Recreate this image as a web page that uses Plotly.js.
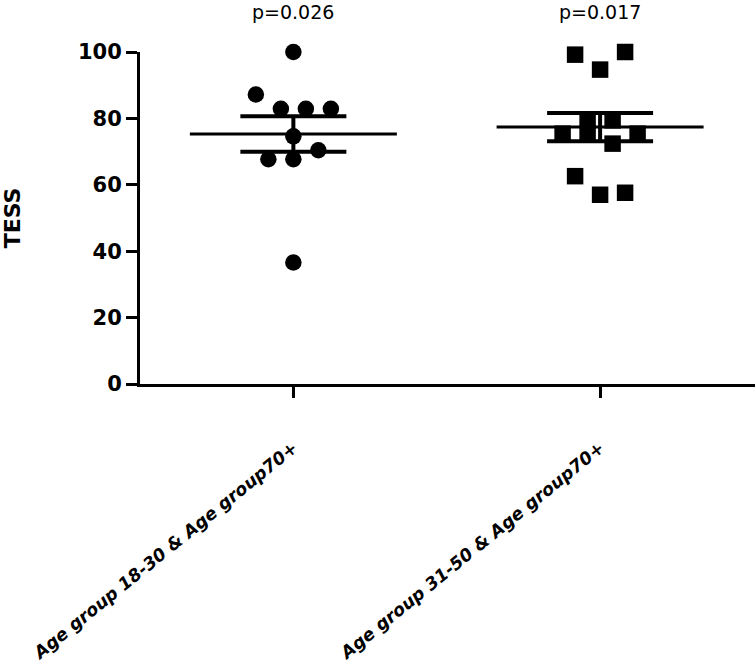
<!DOCTYPE html>
<html>
<head>
<meta charset="utf-8">
<script src="https://cdn.plot.ly/plotly-3.0.1.min.js"></script>
<style>html,body{margin:0;padding:0;background:#fff;}#chart{width:755px;height:672px;}</style>
</head>
<body>
<div id="chart"></div>
<script>
// ---- data ----
const categories = ["Age group 18-30 & Age group70+", "Age group 31-50 & Age group70+"];
const pValues = ["p=0.026", "p=0.017"];
const group1 = [100, 87.2, 82.9, 82.9, 82.9, 74.6, 67.7, 67.7, 70.4, 36.6];
const group2 = [99.2, 94.7, 100, 79.4, 79.4, 75.4, 75.4, 72.4, 75.4, 62.6, 57.0, 57.6];
const yTicks = [0, 20, 40, 60, 80, 100];
const yTitle = "TESS";

// ---- layout constants ----
const W = 755, H = 672;
const M = {l: 140, r: 0, t: 51.5, b: 288};
const xRange = [-0.5, 1.505];
const unitPx = (W - M.l - M.r) / (xRange[1] - xRange[0]);
const spacing = 25 / unitPx;      // horizontal spacing of points in a row
const rowThresh = 6;              // values closer than this share a row
const meanHalf = 103.5 / unitPx;  // half-length of the mean line

function mean(a){ return a.reduce((s,v)=>s+v,0)/a.length; }
function sem(a){ const m = mean(a); const v = a.reduce((s,x)=>s+(x-m)*(x-m),0)/(a.length-1); return Math.sqrt(v/a.length); }

function swarm(values, center){
  const idx = values.map((v,i)=>i).sort((a,b)=>values[a]-values[b]);
  const clusters = []; let cur = null;
  for (const i of idx){
    if (!cur || values[i]-cur.start > rowThresh){ cur = {start: values[i], members: []}; clusters.push(cur); }
    cur.members.push(i);
  }
  const xs = new Array(values.length);
  for (const c of clusters){
    const m = c.members.slice().sort((a,b)=>a-b); const n = m.length;
    m.forEach((i,k)=>{ xs[i] = center + (k-(n-1)/2)*spacing; });
  }
  return xs;
}

const groups = [group1, group2];
const symbols = ["circle", "square"];
const traces = [];
groups.forEach((g, gi) => {
  traces.push({
    type: "scatter", mode: "markers", x: swarm(g, gi), y: g,
    marker: {symbol: symbols[gi], size: 16.5, color: "#000", line: {width: 0}},
    cliponaxis: false, showlegend: false, hoverinfo: "y"
  });
  const m = mean(g), s = sem(g);
  traces.push({
    type: "scatter", mode: "lines", x: [gi - meanHalf, gi + meanHalf], y: [m, m],
    line: {color: "#000", width: 3}, showlegend: false, cliponaxis: false, hoverinfo: "skip"
  });
  traces.push({
    type: "scatter", mode: "markers", x: [gi], y: [m],
    marker: {size: 1, color: "rgba(0,0,0,0)"},
    error_y: {type: "data", array: [s], visible: true, color: "#000", thickness: 4, width: 53},
    showlegend: false, cliponaxis: false, hoverinfo: "skip"
  });
});

const annotations = pValues.map((p, i) => ({
  x: i, xref: "x", y: 1 + (M.t - 11) / (H - M.t - M.b), yref: "paper",
  text: p, showarrow: false, xanchor: "center", yanchor: "middle",
  font: {family: "DejaVu Sans", size: 19, color: "#000"}
}));

const layout = {
  width: W, height: H, margin: M,
  paper_bgcolor: "#fff", plot_bgcolor: "#fff",
  showlegend: false,
  xaxis: {
    range: xRange, tickvals: [0, 1], ticktext: categories,
    showgrid: false, zeroline: false, showline: true, linecolor: "#000", linewidth: 3,
    ticks: "outside", ticklen: 11, tickwidth: 3, tickcolor: "#000",
    tickangle: -39, ticklabelstandoff: 33,
    tickfont: {family: "DejaVu Sans", size: 17.5, weight: "bold", style: "italic", color: "#000"}
  },
  yaxis: {
    range: [0, 100], tickvals: yTicks,
    showgrid: false, zeroline: false, showline: true, linecolor: "#000", linewidth: 3,
    ticks: "outside", ticklen: 11, tickwidth: 3, tickcolor: "#000",
    tickfont: {family: "DejaVu Sans", size: 21, weight: "bold", color: "#000"},
    title: {text: yTitle, standoff: 52, font: {family: "DejaVu Sans", size: 22, weight: "bold", color: "#000"}}
  },
  annotations: annotations
};

Plotly.newPlot("chart", traces, layout, {displayModeBar: false, staticPlot: true});
</script>
</body>
</html>
